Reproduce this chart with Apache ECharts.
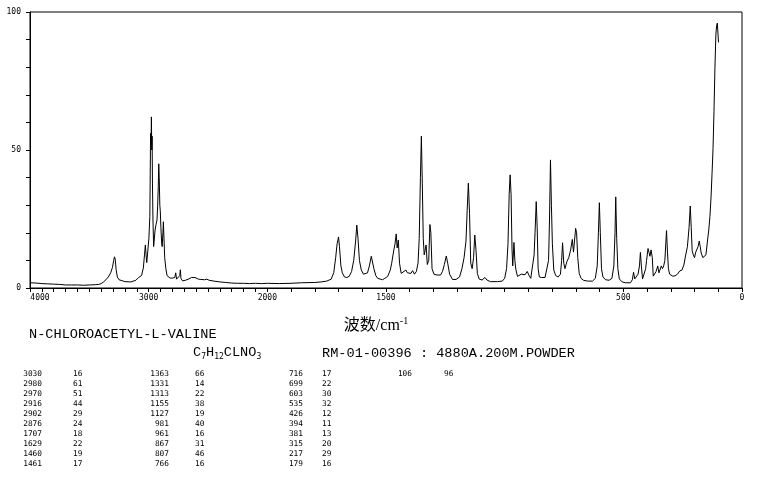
<!DOCTYPE html>
<html><head><meta charset="utf-8">
<script src="https://cdn.jsdelivr.net/npm/echarts@6/dist/echarts.min.js"></script>
<style>html,body{margin:0;padding:0;background:#fff}#c{width:765px;height:477px}</style>
</head><body><div id="c"></div>
<script>
// Spectrum trace (wavenumber cm-1, relative intensity)
const wavenumbers = [
4000,3950,3900,3850,3800,3750,3700,3650,3600,3550,3500,3450,3420,3400,3380,3360,3340,3320,3305,3295,3288,3282,3274,3264,3250,3235,3200,3150,3108,3085,3075,3060,3045,3035,3028,3022,3016,3008,2998,2990,2984,2980,2977,2974,2971,2968,2964,2958,2953,2946,2938,2930,2924,2919,2915,2911,2906,2902,2897,2890,2886,2880,2876,2871,2865,2855,2845,2820,2797,2780,2772,2765,2750,2738,2733,2728,2715,2690,2660,2640,2625,2610,2580,2560,2530,2510,2490,2450,2400,2350,2300,2250,2200,2150,2100,2050,2000,1950,1900,1857,1800,1773,1750,1731,1720,1712,1706,1700,1696,1690,1684,1675,1665,1655,1645,1636,1628,1623,1618,1612,1604,1595,1587,1578,1570,1562,1557,1551,1543,1535,1527,1515,1505,1493,1482,1476,1467,1462,1457,1453,1448,1443,1436,1428,1416,1410,1402,1395,1388,1380,1372,1365,1360,1355,1351,1347,1343,1339,1336,1331,1326,1320,1315,1311,1306,1298,1285,1270,1262,1254,1246,1240,1232,1220,1205,1190,1180,1171,1163,1158,1153,1148,1143,1137,1131,1126,1121,1115,1107,1095,1083,1075,1060,1030,1010,1000,992,986,981,977,973,969,966,961,957,953,946,938,930,922,914,905,897,890,882,876,872,867,863,859,854,845,830,822,815,811,807,803,799,793,785,775,765,760,756,751,746,738,730,722,715,710,706,701,697,692,686,678,668,650,630,618,610,605,601,597,592,586,575,560,548,540,535,532,528,523,517,505,490,470,462,457,452,445,438,432,428,424,419,413,406,402,396,392,388,383,378,374,368,362,355,350,345,340,335,330,325,318,314,310,305,300,292,282,272,262,253,245,238,230,223,218,214,210,205,200,195,190,185,180,176,172,165,158,152,145,140,135,130,126,122,118,114,110,107,104,102,99
];
const intensities = [
1.9,1.8,1.6,1.5,1.4,1.3,1.1,1.1,1.1,1.0,1.1,1.2,1.3,1.6,2.2,3.0,4.0,5.5,7.5,10.0,11.3,10.5,6.6,4.0,3.0,2.5,2.3,2.2,2.8,3.8,3.5,4.5,7.2,12,15.6,12,9.2,9.8,18,26,56,52,62,50,55,38,25,15,15.5,21,23,24.6,30,36.7,45,40,30,28,22,16,15,20,24,18,11,7,4.5,3.6,3.6,3.8,5.5,3.2,3.0,4.5,6.6,3.5,2.6,2.8,3.3,3.8,4.3,3.8,3.2,3.1,3.0,3.2,2.8,2.5,2.2,2.0,1.8,1.7,1.7,1.6,1.7,1.6,1.7,1.6,1.7,1.9,2.0,2.2,2.5,3.2,5.6,11,16,18.5,15,8,5.5,4,3.8,4.2,6,10,17,22.8,18,10,6.5,5,4.5,5.5,8,11.5,12,7,4.5,3.5,3,3,3.5,4.2,6.5,9,13.8,16,19.6,14.5,17.4,9,5.3,5,6.5,5.5,5,5.3,6.3,5,6,9,18,40,55,38,18,12,12,15.6,8.5,10,23,20,7,5,4.7,4.7,6,8.5,11.6,9,5,3.1,3.1,4,7,11,17,28,38,27,9,7,11,19.2,14,5.2,3.2,2.9,3.8,2.9,2.3,2.3,2.5,3.5,7,16,34,41,34,14,8,16.5,10,6.8,4.2,4,5,4.5,4.8,6,4.5,3.5,4,12,20,31.3,22,7,4,3.8,3.8,4.5,10,25,46.4,30,16,6.5,4.5,4,5,10,16.4,9,7,9.5,11,13.8,17.6,13,12.7,21.6,20,11,5.3,3.5,2.8,2.5,2.5,3.5,8,20,30.9,20,7,4,3,2.8,3.5,8,20,33,18,7,3.3,2.2,1.9,1.9,3,5.7,3.3,3.5,5,8,12.9,8,3.3,4,7,10,14.3,13,11.5,13.8,11,4.3,5,6,8,5.5,6,8,7,8,10,20.8,13,7,5,4.5,4.3,4.4,5,6.2,6.5,8.3,11.6,15,22,29.7,22,13.5,12,11,13,12.5,15,17,15,12.7,11,11,12,17.4,21,26,33.7,42,50.6,64,80,92,95,96,95.5,89
];
const xTickLabels = [4000, 3000, 2000, 1500, 500, 0];
const yTickLabels = [0, 50, 100];
const compoundName = 'N-CHLOROACETYL-L-VALINE';
const sampleInfo = 'RM-01-00396 : 4880A.200M.POWDER';
const peakWaves = ['3030','2980','2970','2916','2902','2876','1707','1629','1460','1461',
  '1363','1331','1313','1155','1127','981','961','867','807','766',
  '716','699','603','535','426','394','381','315','217','179','106'];
const peakValues = ['16','61','51','44','29','24','18','22','19','17',
  '66','14','22','38','19','40','16','31','46','16',
  '17','22','30','32','12','11','13','20','29','16','96'];

// piecewise wavenumber scale: 4000-2000 compressed by a factor of 2
const toAxis = w => (w <= 2000 ? w : 2000 + (w - 2000) / 2);
const fromAxis = t => (t <= 2000 ? t : 2000 + (t - 2000) * 2);

const seriesData = wavenumbers.map((w, i) => [toAxis(w), intensities[i]]);
const minorTicks = [];
for (let w = 4000; w >= 0; w -= 100) minorTicks.push(toAxis(w));

const mono = "'DejaVu Sans Mono', monospace";
const thinMono = "'Liberation Mono', 'DejaVu Sans Mono', monospace";

const graphic = [
  { type: 'text', style: { text: compoundName, x: 29, y: 334, verticalAlign: 'middle', font: "13.6px " + thinMono, fill: '#000' } },
  { type: 'text', style: { text: '{n|C}{s|7}{n|H}{s|12}{n|CLNO}{s|3}', x: 193, y: 352, verticalAlign: 'middle', fill: '#000',
      rich: { n: { fontFamily: thinMono, fontSize: 13.6, lineHeight: 18, verticalAlign: 'middle', fill: '#000' },
              s: { fontFamily: mono, fontSize: 8, lineHeight: 18, verticalAlign: 'bottom', fill: '#000' } } } },
  { type: 'text', style: { text: sampleInfo, x: 322, y: 353, verticalAlign: 'middle', font: "13.6px " + thinMono, fill: '#000' } }
];
const waveRight = [42, 169, 303, 412];
const valueLeft = [73, 195, 322, 444];
for (let c = 0; c < 4; c++) {
  const ws = peakWaves.slice(c * 10, c * 10 + 10);
  const vs = peakValues.slice(c * 10, c * 10 + 10);
  graphic.push({ type: 'text', style: { text: ws.join('\n'), x: waveRight[c], y: 368.5, align: 'right', verticalAlign: 'top', lineHeight: 10, font: "7.8px " + mono, fill: '#000' } });
  graphic.push({ type: 'text', style: { text: vs.join('\n'), x: valueLeft[c], y: 368.5, align: 'left', verticalAlign: 'top', lineHeight: 10, font: "7.8px " + mono, fill: '#000' } });
}

const chart = echarts.init(document.getElementById('c'), null, { renderer: 'canvas' });
chart.setOption({
  backgroundColor: '#fff',
  animation: false,
  grid: { left: 30, right: 23, top: 12, bottom: 189, show: true, borderColor: '#000', borderWidth: 1, containLabel: false, outerBoundsMode: 'none' },
  xAxis: {
    type: 'value', min: 0, max: 3000, interval: 500, inverse: true,
    name: '{a|波数/cm}{b|-1}', nameLocation: 'middle', nameGap: 28,
    nameTextStyle: { padding: [0, 20, 0, 0], rich: {
      a: { fontFamily: "'Liberation Serif', 'Noto Sans CJK SC', serif", fontSize: 16, lineHeight: 20, verticalAlign: 'middle', color: '#000' },
      b: { fontFamily: "'Liberation Serif', serif", fontSize: 10, lineHeight: 20, verticalAlign: 'top', color: '#000' } } },
    axisLine: { show: true, onZero: false, lineStyle: { color: '#000', width: 1 } },
    axisTick: { show: true, length: 4, customValues: minorTicks, lineStyle: { color: '#000', width: 1 } },
    axisLabel: { customValues: xTickLabels.map(toAxis), margin: 6, color: '#000', fontFamily: mono, fontSize: 8,
      formatter: v => {
        const w = Math.round(fromAxis(v));
        return w === xTickLabels[0] ? '{l|' + w + '}' : String(w);
      },
      rich: { l: { padding: [0, 0, 0, 20], fontFamily: mono, fontSize: 8, color: '#000' } } },
    splitLine: { show: false }
  },
  yAxis: {
    type: 'value', min: 0, max: 100, interval: 10,
    axisLine: { show: true, onZero: false, lineStyle: { color: '#000', width: 1 } },
    axisTick: { show: true, length: 4, inside: false, lineStyle: { color: '#000', width: 1 } },
    axisLabel: { margin: 9, color: '#000', fontFamily: mono, fontSize: 8,
      formatter: v => (yTickLabels.indexOf(v) >= 0 ? String(v) : '') },
    splitLine: { show: false }
  },
  series: [{
    type: 'line', data: seriesData, showSymbol: false, symbol: 'none', smooth: false,
    lineStyle: { color: '#000', width: 1 }, clip: true
  }],
  graphic: graphic
});
</script>
</body></html>
